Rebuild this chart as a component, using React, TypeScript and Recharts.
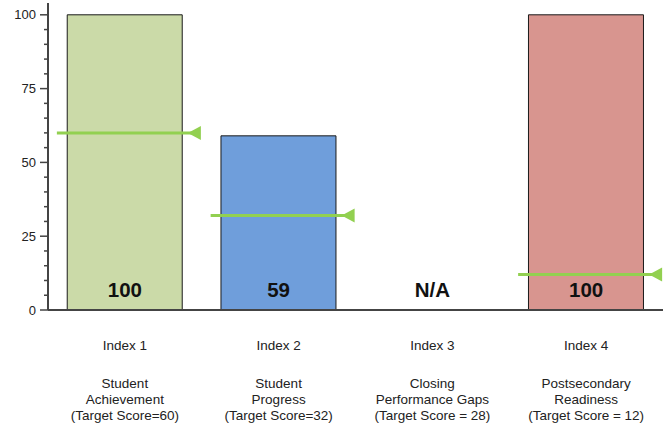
import { ComposedChart, Bar, Cell, Scatter, XAxis, YAxis } from 'recharts'

const categories = ['Index 1', 'Index 2', 'Index 3', 'Index 4']
const subtitles = [
  ['Student', 'Achievement', '(Target Score=60)'],
  ['Student', 'Progress', '(Target Score=32)'],
  ['Closing', 'Performance Gaps', '(Target Score = 28)'],
  ['Postsecondary', 'Readiness', '(Target Score = 12)'],
]
const scores = [100, 59, null, 100]
const scoreLabels = ['100', '59', 'N/A', '100']
// Index 3 has no target marker drawn
const targets = [60, 32, null, 12]
const yTicks = [0, 5, 10, 15, 20, 25, 30, 35, 40, 45, 50, 55, 60, 65, 70, 75, 80, 85, 90, 95, 100]

const barColors = ['#cbdaa8', '#6f9edb', '#ffffff', '#d8958f']
const targetColor = '#92d050'
const font = '"Liberation Sans", Arial, sans-serif'

const data = categories.map((name, i) => ({
  name,
  score: scores[i],
  target: targets[i],
  label: scoreLabels[i],
  base: 0,
}))

const XTick = (props: any) => {
  const { x, y, payload, index } = props
  const lines = subtitles[index] || []
  return (
    <g>
      <text x={x} y={y + 40} textAnchor="middle" fontSize={13.5} fill="#222" fontFamily={font}>
        {payload.value}
      </text>
      {lines.map((l, i) => (
        <text key={i} x={x} y={y + 78 + i * 16} textAnchor="middle" fontSize={13.5} fill="#222" fontFamily={font}>
          {l}
        </text>
      ))}
    </g>
  )
}

const YTick = (props: any) => {
  const { x, y, payload } = props
  const major = payload.value % 25 === 0
  return (
    <g>
      <line x1={x - (major ? 8 : 4)} x2={x} y1={y} y2={y} stroke="#444" strokeWidth={1.5} />
      {major && (
        <text x={x - 12} y={y + 4.5} textAnchor="end" fontSize={13} fill="#222" fontFamily={font}>
          {payload.value}
        </text>
      )}
    </g>
  )
}

const TargetMarker = (props: any) => {
  const { cx, cy, payload } = props
  if (payload == null || payload.target == null || cx == null || cy == null) return <g />
  return (
    <g>
      <line x1={cx - 68} x2={cx + 68} y1={cy} y2={cy} stroke={targetColor} strokeWidth={3} />
      <polygon
        points={`${cx + 63},${cy} ${cx + 76},${cy - 7} ${cx + 76},${cy + 7}`}
        fill={targetColor}
      />
    </g>
  )
}

const ScoreText = (props: any) => {
  const { cx, cy, payload } = props
  if (cx == null || cy == null) return <g />
  return (
    <text x={cx} y={cy - 13} textAnchor="middle" fontSize={20.5} fontWeight="bold" fill="#111" fontFamily={font}>
      {payload.label}
    </text>
  )
}

export default function App() {
  return (
    <div style={{ position: 'absolute', left: 0, top: 0, width: 663, height: 425, background: '#fff' }}>
      <ComposedChart
        width={663}
        height={425}
        data={data}
        margin={{ top: 3, right: 0, bottom: 0, left: 0 }}
        barCategoryGap="12.5%"
      >
        <XAxis
          dataKey="name"
          type="category"
          height={115}
          tickSize={0}
          tickMargin={0}
          tickLine={false}
          axisLine={{ stroke: '#444', strokeWidth: 2 }}
          tick={<XTick />}
          interval={0}
        />
        <YAxis
          type="number"
          width={48}
          domain={[0, 104]}
          ticks={yTicks}
          interval={0}
          tickSize={0}
          tickMargin={0}
          tickLine={false}
          axisLine={{ stroke: '#444', strokeWidth: 2 }}
          tick={<YTick />}
        />
        <Bar dataKey="score" stroke="#1a1a1a" strokeWidth={1} isAnimationActive={false}>
          {data.map((d, i) => (
            <Cell key={d.name} fill={barColors[i]} />
          ))}
        </Bar>
        <Scatter dataKey="base" shape={<ScoreText />} isAnimationActive={false} />
        <Scatter dataKey="target" shape={<TargetMarker />} isAnimationActive={false} />
      </ComposedChart>
    </div>
  )
}
